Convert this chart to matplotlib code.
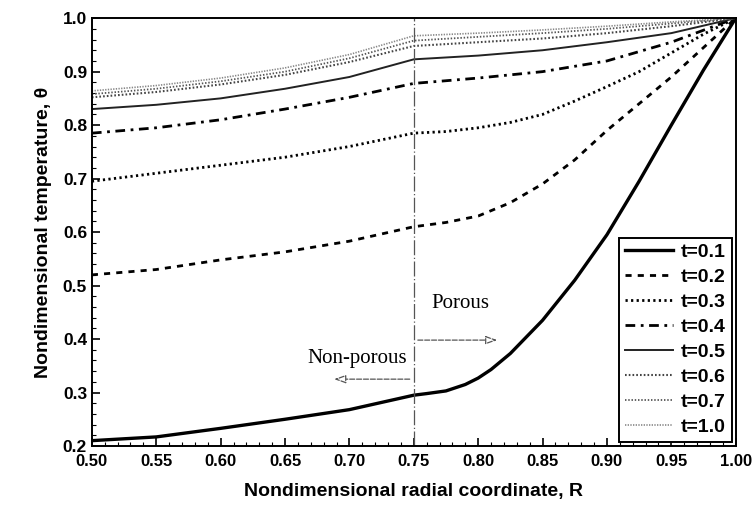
import matplotlib.pyplot as plt
from matplotlib.ticker import MultipleLocator
import numpy as np

# radial coordinate where the curves were read
R = [0.50, 0.55, 0.60, 0.65, 0.70, 0.75, 0.80, 0.85, 0.90, 0.95, 1.00]
R_fine = [0.50, 0.55, 0.60, 0.65, 0.70, 0.75, 0.775, 0.80, 0.825, 0.85,
          0.875, 0.90, 0.925, 0.95, 0.975, 1.00]
R_t01 = [0.50, 0.55, 0.60, 0.65, 0.70, 0.75, 0.76, 0.775, 0.79, 0.80, 0.81,
         0.825, 0.85, 0.875, 0.90, 0.925, 0.95, 0.975, 1.00]

theta_t01 = [0.21, 0.217, 0.233, 0.25, 0.268, 0.295, 0.298, 0.303, 0.315, 0.327,
             0.343, 0.373, 0.435, 0.51, 0.595, 0.695, 0.80, 0.903, 1.0]
theta_t02 = [0.52, 0.53, 0.548, 0.563, 0.583, 0.61, 0.618, 0.63, 0.655, 0.69,
             0.735, 0.79, 0.84, 0.89, 0.945, 1.0]
theta_t03 = [0.695, 0.71, 0.725, 0.74, 0.76, 0.785, 0.788, 0.795, 0.805, 0.82,
             0.845, 0.872, 0.90, 0.935, 0.97, 1.0]
theta_t04 = [0.785, 0.795, 0.81, 0.83, 0.852, 0.878, 0.888, 0.90, 0.92, 0.955, 1.0]
theta_t05 = [0.83, 0.838, 0.85, 0.868, 0.89, 0.923, 0.93, 0.94, 0.955, 0.972, 1.0]
theta_t06 = [0.852, 0.862, 0.876, 0.894, 0.918, 0.948, 0.955, 0.962, 0.972, 0.985, 1.0]
theta_t07 = [0.858, 0.868, 0.882, 0.90, 0.925, 0.958, 0.965, 0.972, 0.98, 0.99, 1.0]
theta_t10 = [0.864, 0.874, 0.888, 0.907, 0.932, 0.967, 0.972, 0.978, 0.985, 0.993, 1.0]

labels = ["t=0.1", "t=0.2", "t=0.3", "t=0.4", "t=0.5", "t=0.6", "t=0.7", "t=1.0"]

fig = plt.figure(figsize=(7.53, 5.13), dpi=100)
ax = fig.add_axes([0.122, 0.1306, 0.855, 0.834])

ax.plot(R_t01, theta_t01, color="black", lw=2.4, ls="-", label=labels[0])
ax.plot(R_fine, theta_t02, color="black", lw=2.0, ls=(0, (2.2, 2.2)), label=labels[1])
ax.plot(R_fine, theta_t03, color="black", lw=2.0, ls=(0, (0.8, 1.2)), label=labels[2])
ax.plot(R, theta_t04, color="black", lw=2.0, ls=(0, (3.5, 2, 1, 2)), label=labels[3])
ax.plot(R, theta_t05, color="#222222", lw=1.4, ls="-", label=labels[4])
ax.plot(R, theta_t06, color="#444444", lw=1.5, ls=(0, (0.8, 1.0)), label=labels[5])
ax.plot(R, theta_t07, color="#555555", lw=1.3, ls=(0, (0.8, 1.0)), label=labels[6])
ax.plot(R, theta_t10, color="#888888", lw=1.2, ls=(0, (0.8, 0.8)), label=labels[7])

# interface between non-porous and porous region
ax.axvline(0.75, color="#555555", lw=0.9, ls=(0, (12, 2, 1, 2)))

serif = ["Liberation Serif", "DejaVu Serif"]
ax.text(0.786, 0.467, "Porous", ha="center", va="center", fontsize=15, family=serif)
ax.text(0.706, 0.364, "Non-porous", ha="center", va="center", fontsize=15, family=serif)
arrow = dict(arrowstyle="-|>,head_length=0.7,head_width=0.25", fc="white",
             ec="#555555", lw=0.9, ls=(0, (4, 1.5)))
ax.annotate("", xy=(0.817, 0.398), xytext=(0.751, 0.398), arrowprops=arrow)
ax.annotate("", xy=(0.686, 0.325), xytext=(0.749, 0.325), arrowprops=arrow)

ax.set_xlim(0.5, 1.0)
ax.set_ylim(0.2, 1.0)
ax.xaxis.set_minor_locator(MultipleLocator(0.01))
ax.yaxis.set_minor_locator(MultipleLocator(0.02))
ax.tick_params(which="both", direction="in", top=False, right=False)
ax.tick_params(which="major", length=6, width=1.2)
ax.tick_params(which="minor", length=3, width=0.8)

sans = ["Liberation Sans", "DejaVu Sans"]
xt = np.arange(0.5, 1.0001, 0.05)
yt = np.arange(0.2, 1.0001, 0.1)
ax.set_xticks(xt)
ax.set_xticklabels(["%.2f" % v for v in xt], fontsize=12, fontweight="bold", family=sans)
ax.set_yticks(yt)
ax.set_yticklabels(["%.1f" % v for v in yt], fontsize=12.5, fontweight="bold", family=sans)
ax.tick_params(axis="x", pad=6)

ax.set_xlabel("Nondimensional radial coordinate, R", fontsize=14, fontweight="bold",
              family=sans, labelpad=10)
ax.set_ylabel("Nondimensional temperature, \u03b8", fontsize=14, fontweight="bold",
              family=sans, labelpad=8)

for s in ax.spines.values():
    s.set_linewidth(1.4)

leg = ax.legend(loc="lower right", fancybox=False, framealpha=1, edgecolor="black",
                prop={"family": sans, "weight": "bold", "size": 14},
                handlelength=2.5, handletextpad=0.4, labelspacing=0.38,
                borderaxespad=0.2, borderpad=0.3)
leg.get_frame().set_linewidth(1.4)

plt.savefig("out.png", dpi=100)
plt.close()
